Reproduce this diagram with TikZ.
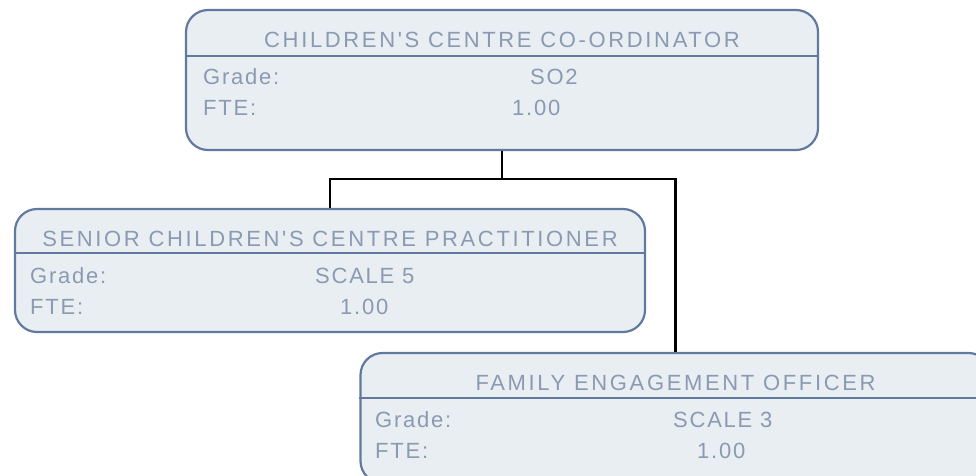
\documentclass[tikz,border=0pt]{standalone}
\usepackage{fontspec}
\setmainfont{Liberation Sans}
\newfontfamily\titlefont[LetterSpace=12]{Liberation Sans}
\newfontfamily\bodyfont[LetterSpace=8]{Liberation Sans}
\definecolor{boxfill}{HTML}{E9EEF2}
\definecolor{boxline}{HTML}{61799E}
\definecolor{boxtext}{HTML}{8A9AB2}
\tikzset{
  rolebox/.style={draw=boxline, fill=boxfill, line width=2.2pt, rounded corners=22pt, inner sep=0pt},
  divider/.style={draw=boxline, line width=2.2pt},
  titletext/.style={text=boxtext, anchor=base, inner sep=0pt, font=\titlefont\fontsize{22}{25}\selectfont},
  bodytext/.style={text=boxtext, anchor=base west, inner sep=0pt, font=\bodyfont\fontsize{22}{25}\selectfont},
  link/.style={draw=black, line width=2.2pt}
}
\begin{document}
\begin{tikzpicture}[x=1pt,y=-1pt]
\useasboundingbox (0,0) rectangle (976,475);
\clip (0,0) rectangle (976,475);
% box 1
\node[rolebox, minimum width=632pt, minimum height=140pt] (b1) at (502,80) {};
\draw[divider] (b1.west |- 0,55.7) coordinate (d1a) -- (b1.east |- 0,55.7) coordinate (d1b);
\node[titletext] (t1) at (502,47.5) {CHILDREN'S CENTRE CO-ORDINATOR};
\node[bodytext] (g1) at (203,84) {Grade:};
\node[bodytext] (gv1) at (530,84) {SO2};
\node[bodytext] (f1) at (203,115) {FTE:};
\node[bodytext] (fv1) at (512,115) {1.00};
% box 2
\node[rolebox, minimum width=630pt, minimum height=123pt] (b2) at (330,270.5) {};
\draw[divider] (b2.west |- 0,253) coordinate (d2a) -- (b2.east |- 0,253) coordinate (d2b);
\node[titletext] (t2) at (330,246.5) {SENIOR CHILDREN'S CENTRE PRACTITIONER};
\node[bodytext] (g2) at (30,283) {Grade:};
\node[bodytext] (gv2) at (315,283) {SCALE 5};
\node[bodytext] (f2) at (30,314) {FTE:};
\node[bodytext] (fv2) at (340,314) {1.00};
% box 3
\node[rolebox, minimum width=630pt, minimum height=130pt] (b3) at (675.5,418) {};
\draw[divider] (b3.west |- 0,398) coordinate (d3a) -- (b3.east |- 0,398) coordinate (d3b);
\node[titletext] (t3) at (675.5,390.5) {FAMILY ENGAGEMENT OFFICER};
\node[bodytext] (g3) at (375,427) {Grade:};
\node[bodytext] (gv3) at (673,427) {SCALE 3};
\node[bodytext] (f3) at (375,458) {FTE:};
\node[bodytext] (fv3) at (697,458) {1.00};
% connectors
\coordinate (junction) at (502,179);
\draw[link] (b1.south) -- (junction);
\draw[link] (junction) -| (b2.north);
\draw[link] (junction) -| (b3.north);
\end{tikzpicture}
\end{document}
